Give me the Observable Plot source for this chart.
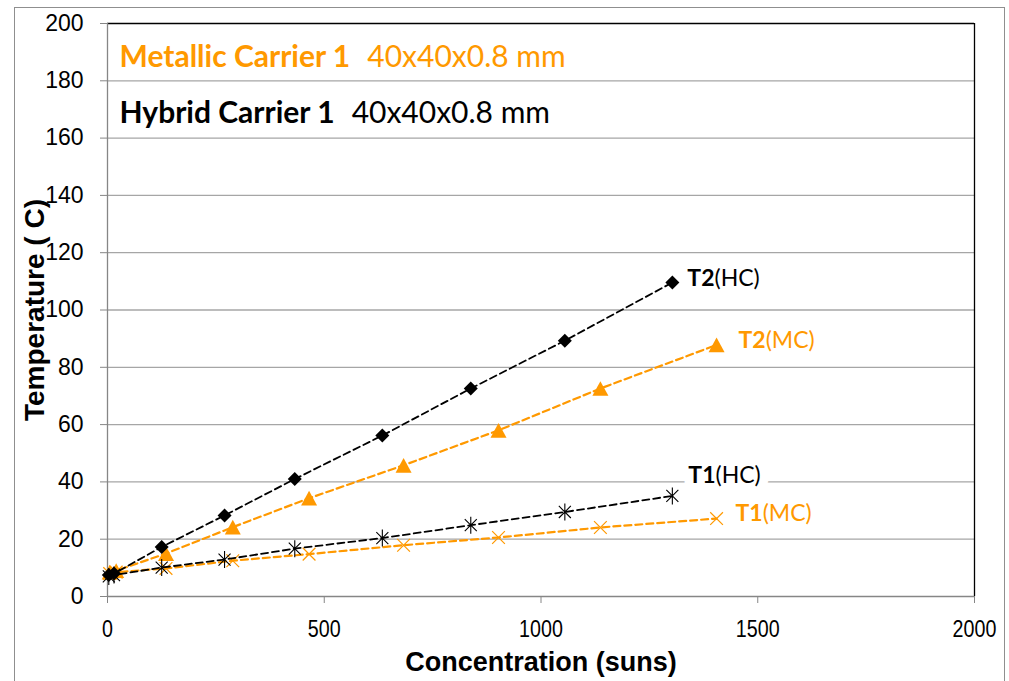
<!DOCTYPE html>
<html>
<head>
<meta charset="utf-8">
<script src="https://cdn.jsdelivr.net/npm/d3@7"></script>
<script src="https://cdn.jsdelivr.net/npm/@observablehq/plot@0.6"></script>
<style>
  body { margin: 0; background: #fff; }
  #wrap { position: relative; width: 1009px; height: 681px; overflow: hidden; }
  #border { position: absolute; left: 14px; top: 7px; width: 991px; height: 720px; border: 1.5px solid #8f8f8f; box-sizing: border-box; }
  #chart { position: absolute; left: 0; top: 0; }
</style>
</head>
<body>
<div id="wrap"><div id="border"></div><div id="chart"></div></div>
<script>
const orange = "#ff9900";

// Concentration levels (suns) for the two carriers
const hcSuns = [3, 15, 125, 270, 432, 634, 838, 1055, 1303];
const mcSuns = [5, 20, 135, 289, 465, 683, 902, 1137, 1405];

// Temperatures (°C)
const t2HC = [7.5, 8, 17.3, 28.3, 41, 56.2, 72.6, 89.3, 109.6];
const t1HC = [7, 7.5, 10.1, 12.9, 16.7, 20.4, 24.9, 29.5, 35.1];
const t2MC = [8.5, 9, 15, 24.2, 34.3, 45.8, 58, 72.6, 87.8];
const t1MC = [8, 8.5, 9.8, 12.5, 14.8, 17.9, 20.6, 24.1, 27.2];

// Axis ticks
const xTicks = [0, 500, 1000, 1500, 2000];
const yTicks = [0, 20, 40, 60, 80, 100, 120, 140, 160, 180, 200];

// Legend text
const legendNames = ["Metallic Carrier 1", "Hybrid Carrier 1"];
const legendSize = "40x40x0.8 mm";

const toRows = (name, suns, temps) => suns.map((s, i) => ({series: name, suns: s, temp: temps[i]}));
const rT2HC = toRows("T2(HC)", hcSuns, t2HC);
const rT1HC = toRows("T1(HC)", hcSuns, t1HC);
const rT2MC = toRows("T2(MC)", mcSuns, t2MC);
const rT1MC = toRows("T1(MC)", mcSuns, t1MC);
const last = (rows) => [rows[rows.length - 1]];

// Marker shapes; r = sqrt(size / PI) is the half-extent in pixels
const rOf = (size) => Math.sqrt(size / Math.PI);
const diamond = {draw(c, size) { const r = rOf(size); c.moveTo(0, -r); c.lineTo(r, 0); c.lineTo(0, r); c.lineTo(-r, 0); c.closePath(); }};
const triangle = {draw(c, size) { const r = rOf(size); const h = r * 0.92; c.moveTo(0, -h); c.lineTo(r, h); c.lineTo(-r, h); c.closePath(); }};
const star = {draw(c, size) { const r = rOf(size); const d = r * 0.7071;
  c.moveTo(0, -r); c.lineTo(0, r); c.moveTo(-d, -d); c.lineTo(d, d); c.moveTo(-d, d); c.lineTo(d, -d); }};
const cross = {draw(c, size) { const r = rOf(size); const d = r * 0.7071;
  c.moveTo(-d, -d); c.lineTo(d, d); c.moveTo(-d, d); c.lineTo(d, -d); }};

const labelFont = "Lato, 'Open Sans', sans-serif";
const lineOpts = (stroke, w) => ({x: "suns", y: "temp", stroke, strokeWidth: w, strokeDasharray: "7,4"});
const lab = (color, dx, dy, name = "series-label") => ({x: "suns", y: "temp", text: "series", fill: color, dx, dy,
  textAnchor: "start", lineAnchor: "middle", fontFamily: labelFont, fontSize: 23, ariaDescription: name});

const chart = Plot.plot({
  width: 1009,
  height: 681,
  marginLeft: 107,
  marginRight: 35,
  marginTop: 23,
  marginBottom: 85,
  x: {domain: [0, 2000]},
  y: {domain: [0, 200]},
  style: {background: "transparent", fontFamily: "'Liberation Sans', Arial, sans-serif", overflow: "visible"},
  marks: [
    // horizontal gridlines
    Plot.ruleY(yTicks.filter(v => v > 0 && v < 200), {stroke: "#a6a6a6", strokeWidth: 1.3}),
    // plot-area border (top and right)
    Plot.ruleY([200], {stroke: "#000", strokeWidth: 1.3}),
    Plot.ruleX([2000], {stroke: "#000", strokeWidth: 1.3}),
    // white box behind the T1(HC) label
    Plot.text(last(rT1HC), {...lab("white", 16, -20, "label-box"), stroke: "white", strokeWidth: 18}),
    // axis lines
    Plot.ruleX([0], {stroke: "#868686", strokeWidth: 1.3}),
    Plot.ruleY([0], {stroke: "#868686", strokeWidth: 1.3}),
    Plot.axisY({ticks: yTicks, tickSize: 7, tickPadding: 17, fontSize: 23, label: null, stroke: "#868686", fill: "#000"}),
    Plot.axisX({ticks: xTicks, tickSize: 7, tickPadding: 16, fontSize: 24, label: null, stroke: "#868686", fill: "#000",
      tickFormat: d => String(d), ariaDescription: "x-ticks"}),

    // metallic carrier series
    Plot.line(rT2MC, lineOpts(orange, 2.2)),
    Plot.dot(rT2MC, {x: "suns", y: "temp", symbol: triangle, r: 8, fill: orange, stroke: "none"}),
    Plot.line(rT1MC, lineOpts(orange, 2.2)),
    Plot.dot(rT1MC, {x: "suns", y: "temp", symbol: cross, r: 9, stroke: orange, strokeWidth: 1.2, fill: "none"}),

    // hybrid carrier series
    Plot.line(rT2HC, lineOpts("#000", 1.8)),
    Plot.dot(rT2HC, {x: "suns", y: "temp", symbol: diamond, r: 7, fill: "#000", stroke: "none"}),
    Plot.line(rT1HC, lineOpts("#000", 1.8)),
    Plot.dot(rT1HC, {x: "suns", y: "temp", symbol: star, r: 8.5, stroke: "#000", strokeWidth: 1.1, fill: "none"}),

    // series end labels
    Plot.text(last(rT2HC), lab("#000", 15, -4)),
    Plot.text(last(rT2MC), lab(orange, 22, -4)),
    Plot.text(last(rT1HC), lab("#000", 16, -20)),
    Plot.text(last(rT1MC), lab(orange, 19, -5)),

    // carrier legend
    Plot.text([legendNames[0] + "|" + legendSize], {text: d => d, frameAnchor: "top-left", dx: 12, dy: 34, fill: orange,
      textAnchor: "start", lineAnchor: "middle", fontFamily: labelFont, fontSize: 30, ariaDescription: "legend"}),
    Plot.text([legendNames[1] + "|" + legendSize], {text: d => d, frameAnchor: "top-left", dx: 12, dy: 90, fill: "#000",
      textAnchor: "start", lineAnchor: "middle", fontFamily: labelFont, fontSize: 30, ariaDescription: "legend"}),

    // axis titles
    Plot.text(["Temperature ( C)"], {text: d => d, frameAnchor: "left", dx: -72, rotate: -90, textAnchor: "middle",
      lineAnchor: "middle", fontWeight: "bold", fontSize: 28, fill: "#000"}),
    Plot.text(["Concentration (suns)"], {text: d => d, frameAnchor: "bottom", dy: 66, textAnchor: "middle",
      lineAnchor: "middle", fontWeight: "bold", fontSize: 27, fill: "#000"})
  ]
});

// Bold first run, regular second run
function splitRuns(svg, label, splitter, gap) {
  d3.select(svg).selectAll(`[aria-description="${label}"] text`).each(function () {
    const t = d3.select(this);
    const s = t.text();
    const [a, b] = splitter(s);
    t.text(null);
    t.append("tspan").attr("font-weight", "bold").text(a);
    t.append("tspan").attr("font-weight", "normal").attr("dx", gap).text(b);
  });
}
const splitSeries = s => { const i = s.indexOf("("); return [s.slice(0, i), s.slice(i)]; };
splitRuns(chart, "series-label", splitSeries, 0);
splitRuns(chart, "label-box", splitSeries, 0);
splitRuns(chart, "legend", s => s.split("|"), 17);

// condensed x-axis tick labels
d3.select(chart).selectAll('[aria-description="x-ticks"] text').each(function () {
  const t = d3.select(this);
  t.attr("transform", (t.attr("transform") || "") + " scale(0.82,1)");
});

document.getElementById("chart").appendChild(chart);
</script>
</body>
</html>
